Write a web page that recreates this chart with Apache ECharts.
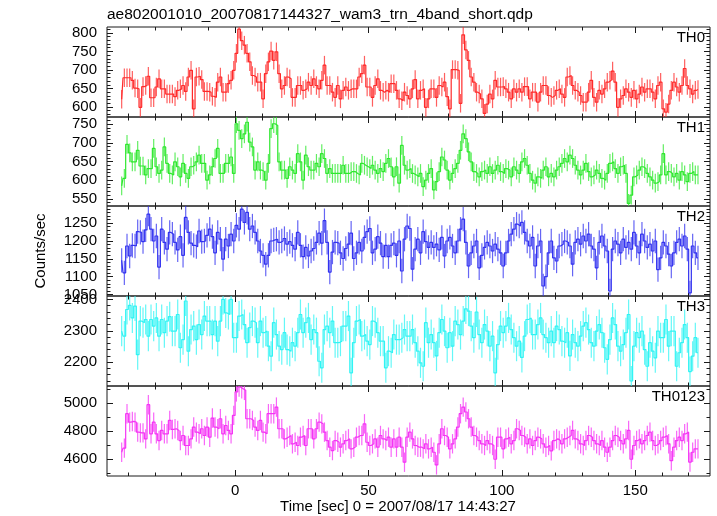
<!DOCTYPE html>
<html><head><meta charset="utf-8">
<script src="https://cdn.jsdelivr.net/npm/echarts@6/dist/echarts.min.js"></script>
<style>html,body{margin:0;padding:0;background:#fff}#c{width:717px;height:516px}</style>
</head><body><div id="c"></div><script>
// ---- data (1 s bins, first bin starts at t = -43 s) ----
const tStart = -43;
const binWidth = 1;
const th0 = [621,679,679,679,672,651,649,599,655,658,
683,625,625,654,676,649,649,635,635,635,
628,645,649,658,642,681,699,595,681,683,
674,642,642,640,629,626,667,681,640,640,
663,672,699,745,810,779,767,745,722,685,
681,667,667,622,690,722,751,726,749,690,
649,658,681,676,626,626,658,658,645,649,
667,658,676,658,649,672,713,658,658,640,
626,658,622,645,654,645,649,649,649,681,
690,713,654,654,626,658,676,645,640,645,
640,663,663,645,622,617,640,631,622,649,
674,622,645,649,599,622,649,649,626,658,
654,667,628,595,701,701,699,610,795,754,
726,681,667,640,635,622,583,608,635,622,
672,654,654,655,649,640,622,649,640,649,
640,655,655,622,640,640,613,640,658,658,
631,626,631,645,649,635,626,681,685,658,
645,640,631,613,613,640,672,626,613,645,
635,649,667,672,697,667,599,622,631,649,
640,626,645,622,635,654,640,649,649,640,
622,658,667,595,586,608,645,667,654,640,
658,704,658,649,635,645,647];
const th1 = [585,605,696,673,649,649,680,638,638,614,
631,631,685,636,618,627,689,645,618,614,
649,636,609,645,618,605,636,640,649,667,
645,645,600,614,636,658,685,618,618,645,
645,662,618,751,733,711,724,755,702,689,
627,649,627,623,600,645,738,751,746,649,
627,627,605,636,627,618,671,649,600,667,
636,627,627,645,636,671,658,618,631,618,
618,618,618,640,618,618,623,623,618,614,
645,640,636,631,640,627,618,631,623,645,
658,636,609,636,592,693,640,
627,631,618,614,609,618,583,600,618,631,
574,596,623,662,654,627,600,618,631,645,
680,724,711,676,649,623,618,609,623,627,
618,636,618,627,640,623,618,631,627,609,
636,627,618,649,658,640,618,600,592,609,
605,627,636,609,618,609,627,636,645,658,
649,667,658,640,627,614,627,645,623,609,
614,627,618,605,600,618,645,649,631,618,
636,640,618,538,560,609,614,627,636,631,
618,609,600,592,596,614,671,614,623,618,
609,618,600,623,614,596,618,623,614,614];
const th2 = [1146,1111,1186,1158,1188,1186,1226,1224,1198,1231,
1275,1233,1200,1214,1127,1233,1196,1177,1224,1219,
1196,1175,1212,1160,1266,1224,1194,1188,1184,1228,
1198,1200,1216,1233,1212,1167,1224,1205,1149,1205,
1186,1219,1200,1244,1233,1289,1252,1280,1233,1242,
1224,1200,1172,1160,1135,1160,1200,1203,1205,1196,
1200,1207,1191,1198,1188,1177,1224,1188,1156,1182,
1158,1172,1179,1196,1222,1194,1257,1196,1113,1169,
1196,1194,1167,1151,1179,1191,1222,1151,1167,1196,
1172,1210,1226,1235,1167,1177,1212,1194,1156,1188,
1156,1188,1194,1160,1200,1116,1205,
1242,1235,1121,1177,1205,1167,1226,1198,1182,1196,
1182,1191,1175,1210,1158,1200,1210,1186,1167,1200,
1233,1261,1196,1130,1167,1186,1200,1125,1160,1182,
1196,1186,1172,1191,1177,1167,1130,1167,1200,1219,
1233,1247,1242,1252,1224,1200,1186,1210,1130,1186,
1200,1074,1100,1167,1200,1153,1144,1186,1191,1200,
1196,1186,1135,1196,1205,1191,1214,1200,1219,1186,
1177,1125,1196,1214,1186,1172,1060,1177,1200,1191,
1167,1205,1182,1196,1177,1224,1186,1167,1219,1200,
1182,1191,1172,1200,1120,1153,1196,1186,1163,1130,
1167,1196,1205,1186,1214,1177,1055,1186,1167,1153];
const th3 = [2299,2283,2368,2381,2341,2379,2224,2331,2326,2336,
2283,2336,2315,2341,2283,2336,2294,2331,2345,2299,
2299,2352,2246,2272,2395,2235,2304,2315,2272,2320,
2288,2347,2331,2331,2288,2331,2267,2331,2400,2357,
2352,2400,2278,2278,2347,2352,2320,2262,2310,2331,
2326,2262,2331,2294,2299,2251,2219,2326,2288,2251,
2240,2294,2240,2235,2262,2251,2294,2352,2294,2326,
2341,2272,2304,2294,2203,2182,2304,2315,2294,2331,
2262,2262,2267,2315,2315,2347,2166,2262,2331,2336,
2283,2288,2267,2256,2331,2326,2294,2267,2267,2182,
2235,2230,2288,2272,2272,2278,2304,
2283,2283,2304,2262,2235,2198,2187,2326,2262,2288,
2262,2220,2294,2336,2299,2246,2294,2251,2331,2320,
2288,2331,2370,2363,2315,2278,2360,2288,2262,2320,
2299,2251,2283,2166,2256,2315,2294,2315,2341,2304,
2278,2251,2267,2215,2283,2336,2341,2288,2288,2320,
2341,2288,2278,2262,2299,2262,2315,2304,2267,2262,
2294,2220,2288,2262,2251,2283,2315,2326,2304,2262,
2251,2299,2320,2294,2246,2209,2272,2341,2320,2251,
2235,2256,2294,2352,2140,2251,2294,2278,2299,2240,
2187,2262,2235,2214,2299,2278,2278,2336,2251,2299,
2299,2187,2230,2262,2320,2278,2170,2219,2278,2230];
const th0123 = [4650,4679,4924,4864,4869,4864,4793,4788,4788,4745,
4988,4781,4864,4781,4733,4805,4781,4781,4876,4812,
4817,4805,4733,4769,4698,4698,4745,4829,4793,4781,
4817,4769,4829,4757,4893,4829,4817,4888,4781,4840,
4805,4781,4912,5079,5114,5102,5090,4888,4888,4876,
4829,4805,4876,4793,4781,4924,4924,4924,4971,4817,
4817,4745,4757,4769,4710,4721,4698,4757,4769,4698,
4817,4817,4745,4817,4864,4852,4793,4733,4686,4662,
4733,4721,4686,4710,4733,4745,4674,4686,4757,4769,
4769,4852,4721,4698,4710,4745,4686,4769,4745,4733,
4757,4686,4745,4686,4757,4686,4579,
4757,4793,4745,4698,4686,4686,4674,4710,4674,4686,
4650,4560,4710,4817,4769,4757,4674,4710,4745,4829,
4924,4971,4936,4888,4829,4769,4757,4733,4710,4698,
4733,4710,4698,4600,4757,4757,4674,4745,4757,4710,
4733,4817,4805,4769,4757,4710,4745,4698,4733,4757,
4745,4710,4686,4698,4660,4733,4745,4733,4710,4745,
4757,4769,4805,4745,4733,4710,4698,4733,4769,4757,
4733,4710,4698,4733,4686,4650,4686,4733,4769,4757,
4733,4710,4745,4805,4600,4698,4733,4745,4710,4733,
4769,4793,4733,4698,4710,4733,4757,4769,4710,4590,
4686,4733,4757,4733,4781,4793,4580,4650,4674,4674];
// typical 1-sigma error per band (half length of error bars)
const errors = [25, 25, 34, 48, 69];
const panelNames = ['TH0', 'TH1', 'TH2', 'TH3', 'TH0123'];
const yTickLabels = [
  [600, 650, 700, 750, 800],
  [550, 600, 650, 700, 750],
  [1050, 1100, 1150, 1200, 1250],
  [2200, 2300, 2400],
  [4600, 4800, 5000]
];
const xTickLabels = [0, 50, 100, 150];
const titleText = 'ae802001010_20070817144327_wam3_trn_4band_short.qdp';
const xTitle = 'Time [sec] 0 = 2007/08/17 14:43:27';
const yTitle = 'Counts/sec';

// ---- styling / layout ----
const FONT = '"Liberation Sans", Arial, Helvetica, sans-serif';
const colors = ['#ff2a2a', '#2ee82e', '#3232f0', '#30f4f4', '#f533f5'];
const yMin = [573, 531, 1046, 2124, 4481];
const yMax = [816, 769, 1298, 2411, 5121];
const yMinorStep = [10, 10, 10, 20, 100];
const xMin = -48, xMax = 178, xMinorStep = 10;
const gridTop = [27, 117, 206, 296, 386];
const gridH = [90, 89, 90, 90, 90];
const LEFT = 107, WIDTH = 603;

function ticksBetween(a, b, step) {
  const r = [];
  for (let v = Math.ceil(a / step) * step; v <= b; v += step) r.push(v);
  return r;
}
const xMinor = ticksBetween(xMin, xMax, xMinorStep);
const allSeries = [th0, th1, th2, th3, th0123];
const plain = v => String(Math.round(v));

const grids = [], xAxes = [], yAxes = [], ser = [], graphics = [];
allSeries.forEach((vals, g) => {
  grids.push({left: LEFT, width: WIDTH, top: gridTop[g], height: gridH[g], show: true,
    borderColor: '#1a1a1a', borderWidth: 1, backgroundColor: 'transparent'});
  const tick = (len, v) => ({show: true, inside: true, length: len, customValues: v,
    lineStyle: {color: '#1a1a1a', width: 1}});
  const noLine = {show: false, onZero: false};
  const baseX = {type: 'value', gridIndex: g, min: xMin, max: xMax, splitLine: {show: false},
    axisLine: noLine, axisLabel: {show: false}, axisPointer: {show: false}};
  xAxes.push(Object.assign({}, baseX, {position: 'bottom',
    axisTick: tick(6, xTickLabels),
    axisLabel: g === 4 ? {show: true, customValues: xTickLabels, fontSize: 15, color: '#000',
      fontFamily: FONT, margin: 7, hideOverlap: false, formatter: plain} : {show: false}}));
  xAxes.push(Object.assign({}, baseX, {position: 'bottom', axisTick: tick(3.5, xMinor)}));
  xAxes.push(Object.assign({}, baseX, {position: 'top', axisTick: tick(6, xTickLabels)}));
  xAxes.push(Object.assign({}, baseX, {position: 'top', axisTick: tick(3.5, xMinor)}));

  const yMinorTicks = ticksBetween(yMin[g], yMax[g], yMinorStep[g]);
  const baseY = {type: 'value', gridIndex: g, min: yMin[g], max: yMax[g], splitLine: {show: false},
    axisLine: noLine, axisLabel: {show: false}, axisPointer: {show: false}};
  yAxes.push(Object.assign({}, baseY, {position: 'left',
    axisTick: tick(6, yTickLabels[g]),
    axisLabel: {show: true, customValues: yTickLabels[g], fontSize: 15, color: '#000',
      fontFamily: FONT, margin: 10, hideOverlap: false, formatter: plain}}));
  yAxes.push(Object.assign({}, baseY, {position: 'left', axisTick: tick(3.5, yMinorTicks)}));
  yAxes.push(Object.assign({}, baseY, {position: 'right', axisTick: tick(6, yTickLabels[g])}));
  yAxes.push(Object.assign({}, baseY, {position: 'right', axisTick: tick(3.5, yMinorTicks)}));

  const pts = vals.map((v, i) => [tStart + (i + 0.5) * binWidth, v]);
  const err = errors[g];
  ser.push({
    type: 'custom', xAxisIndex: 4 * g, yAxisIndex: 4 * g, clip: true, silent: true, animation: false,
    data: pts.map(p => [p[0], p[1] - err, p[1] + err]),
    encode: {x: 0, y: [1, 2]},
    renderItem: (params, api) => {
      const a = api.coord([api.value(0), api.value(1)]);
      const b = api.coord([api.value(0), api.value(2)]);
      return {type: 'line', shape: {x1: a[0], y1: a[1], x2: b[0], y2: b[1]},
        style: {stroke: colors[g], lineWidth: 1.2, opacity: 0.75}};
    }
  });
  ser.push({
    type: 'line', xAxisIndex: 4 * g, yAxisIndex: 4 * g, step: 'middle', data: pts,
    showSymbol: false, symbol: 'none', clip: true, silent: true, animation: false,
    lineStyle: {color: colors[g], width: 1.2}
  });

  graphics.push({type: 'text', right: 12, top: gridTop[g] + 3, z: 100,
    style: {text: panelNames[g], font: '15px ' + FONT, fill: '#000'}});
});

graphics.push({type: 'text', left: LEFT, top: 7,
  style: {text: titleText, font: '15.5px ' + FONT, fill: '#000'}});
graphics.push({type: 'text', x: 398, y: 507,
  style: {text: xTitle, font: '15px ' + FONT, fill: '#000',
    align: 'center', verticalAlign: 'middle', textAlign: 'center', textVerticalAlign: 'middle'}});
graphics.push({type: 'text', x: 41, y: 251, rotation: Math.PI / 2,
  style: {text: yTitle, font: '15px ' + FONT, fill: '#000',
    align: 'center', verticalAlign: 'middle', textAlign: 'center', textVerticalAlign: 'middle'}});

const chart = echarts.init(document.getElementById('c'), null, {renderer: 'canvas'});
chart.setOption({
  animation: false,
  backgroundColor: '#fff',
  grid: grids, xAxis: xAxes, yAxis: yAxes, series: ser, graphic: graphics
});
</script></body></html>
